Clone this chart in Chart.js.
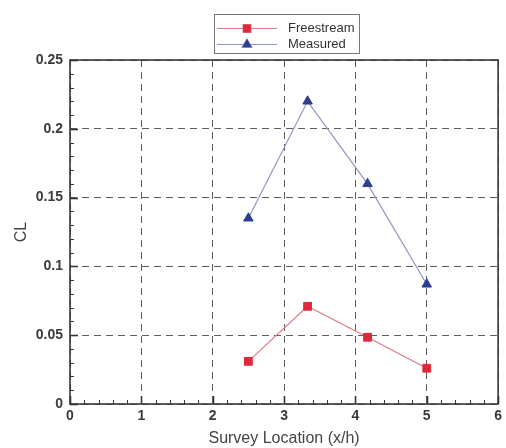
<!DOCTYPE html>
<html>
<head>
<meta charset="utf-8">
<script src="https://cdn.jsdelivr.net/npm/chart.js@4"></script>
<style>
  html, body { margin: 0; padding: 0; background: #fff; }
  #wrap { width: 506px; height: 448px; }
</style>
</head>
<body>
<div id="wrap"><canvas id="c" width="506" height="448"></canvas></div>
<script>
const xLocations = [2.5, 3.33, 4.17, 5.0];
const freestream = [0.031, 0.071, 0.0485, 0.026];
const measured = [0.135, 0.220, 0.160, 0.087];
const seriesNames = ['Freestream', 'Measured'];
const xTitle = 'Survey Location (x/h)';
const yTitle = 'CL';

const toPts = (ys) => xLocations.map((x, i) => ({ x: x, y: ys[i] }));

const framePlugin = {
  id: 'frame',
  afterDraw(chart) {
    const ctx = chart.ctx;
    const a = chart.chartArea;
    const xs = chart.scales.x, ys = chart.scales.y;
    ctx.save();
    ctx.strokeStyle = '#3a3536';
    for (let v = 0; v <= 6.0001; v += 0.2) {
      const px = Math.round(xs.getPixelForValue(v)) + 0.5;
      const major = Math.abs(v - Math.round(v)) < 1e-6;
      ctx.lineWidth = major ? 1.6 : 1;
      ctx.beginPath();
      ctx.moveTo(px, a.bottom);
      ctx.lineTo(px, a.bottom - (major ? 8 : 4));
      ctx.stroke();
    }
    for (let i = 0; i <= 25; i++) {
      const v = i * 0.01;
      const py = Math.round(ys.getPixelForValue(v)) + 0.5;
      const major = i % 5 === 0;
      ctx.lineWidth = major ? 1.6 : 1;
      ctx.beginPath();
      ctx.moveTo(a.left, py);
      ctx.lineTo(a.left + (major ? 8 : 4), py);
      ctx.stroke();
    }
    ctx.lineWidth = 1.6;
    ctx.strokeRect(a.left, a.top, a.right - a.left, a.bottom - a.top);
    ctx.restore();

    // legend box
    const lx = 214, ly = 14, lw = 145, lh = 39;
    ctx.save();
    ctx.fillStyle = '#fff';
    ctx.fillRect(lx, ly, lw, lh);
    ctx.strokeStyle = '#777';
    ctx.lineWidth = 1;
    ctx.strokeRect(lx + 0.5, ly + 0.5, lw, lh);
    chart.data.datasets.forEach((ds, i) => {
      const y = 28.5 + i * 16;
      ctx.strokeStyle = ds.borderColor;
      ctx.lineWidth = 1.2;
      ctx.beginPath();
      ctx.moveTo(217, y);
      ctx.lineTo(277, y);
      ctx.stroke();
      Chart.helpers.drawPoint(ctx, {
        pointStyle: ds.pointStyle, radius: ds.pointRadius, rotation: 0, borderWidth: 1
      }, 247, y);
      ctx.fillStyle = ds.pointBackgroundColor;
      ctx.strokeStyle = ds.pointBorderColor;
      ctx.fill();
      ctx.fillStyle = '#333';
      ctx.font = '13px "Liberation Sans", Arial, sans-serif';
      ctx.textBaseline = 'middle';
      ctx.textAlign = 'left';
      ctx.fillText(ds.label, 288, y);
    });
    ctx.restore();
  }
};

new Chart(document.getElementById('c'), {
  type: 'scatter',
  data: {
    datasets: [
      {
        label: seriesNames[0],
        data: toPts(freestream),
        showLine: true,
        borderColor: '#e07a86',
        borderWidth: 1.2,
        pointStyle: 'rect',
        pointRadius: 5.5,
        pointBackgroundColor: '#e0283c',
        pointBorderColor: '#e0283c',
        pointBorderWidth: 1
      },
      {
        label: seriesNames[1],
        data: toPts(measured),
        showLine: true,
        borderColor: '#8d97c4',
        borderWidth: 1.2,
        pointStyle: 'triangle',
        pointRadius: 5.5,
        pointBackgroundColor: '#2e3f93',
        pointBorderColor: '#2e3f93',
        pointBorderWidth: 1
      }
    ]
  },
  options: {
    responsive: false,
    animation: false,
    devicePixelRatio: 1,
    layout: { padding: { top: 60, right: 2, left: 0, bottom: 0 } },
    plugins: { legend: { display: false }, tooltip: { enabled: false } },
    scales: {
      x: {
        type: 'linear',
        min: 0, max: 6,
        afterFit(s) { s.height = 44; },
        ticks: {
          stepSize: 1,
          padding: 4,
          color: '#3a3a3a',
          font: { size: 14, weight: 'bold', family: '"Liberation Sans", Arial, sans-serif' }
        },
        grid: { color: '#5e5e5e', lineWidth: 1, drawTicks: false },
        border: { display: false, dash: [7, 5] },
        title: {
          display: true,
          text: xTitle,
          color: '#444',
          padding: { top: 2, bottom: 0 },
          font: { size: 16, family: '"Liberation Sans", Arial, sans-serif' }
        }
      },
      y: {
        type: 'linear',
        min: 0, max: 0.25,
        afterFit(s) { s.width = 70; },
        ticks: {
          stepSize: 0.05,
          padding: 7,
          color: '#3a3a3a',
          callback: (v) => String(Math.round(v * 100) / 100),
          font: { size: 14, weight: 'bold', family: '"Liberation Sans", Arial, sans-serif' }
        },
        grid: { color: '#5e5e5e', lineWidth: 1, drawTicks: false },
        border: { display: false, dash: [7, 5] },
        title: {
          display: true,
          text: yTitle,
          color: '#444',
          padding: { top: 12, bottom: 4 },
          font: { size: 16, family: '"Liberation Sans", Arial, sans-serif' }
        }
      }
    }
  },
  plugins: [framePlugin]
});
</script>
</body>
</html>
